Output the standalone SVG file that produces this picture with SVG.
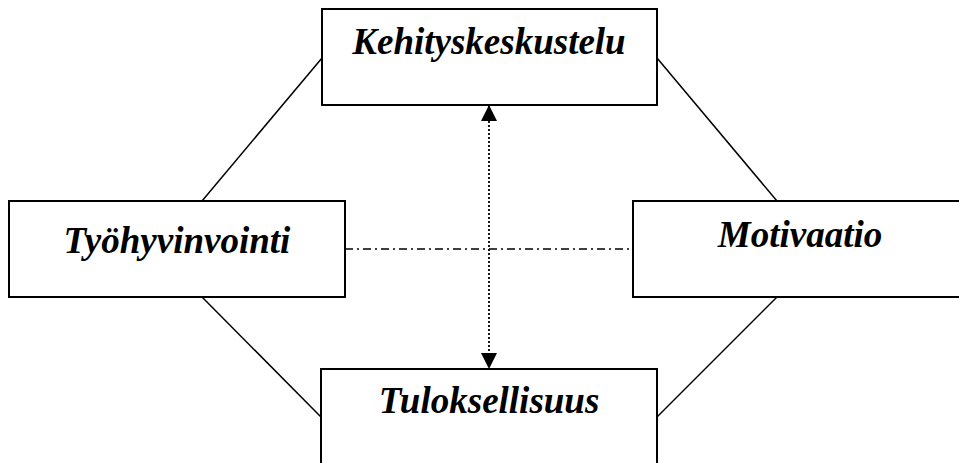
<svg xmlns="http://www.w3.org/2000/svg" width="959" height="463" viewBox="0 0 959 463">
  <style>
    .box { fill: #ffffff; stroke: #000000; stroke-width: 2; }
    .label { font-family: "Liberation Serif", "Times New Roman", serif; font-weight: bold; font-style: italic; font-size: 37px; fill: #000000; text-anchor: middle; }
    .link { stroke: #000000; stroke-width: 1.5; fill: none; }
    .dashdot { stroke: #000000; stroke-width: 1.5; fill: none; stroke-dasharray: 8 4 2 4; }
    .dotted { stroke: #000000; stroke-width: 1.8; fill: none; stroke-dasharray: 2 2; }
  </style>
  <defs>
    <marker id="arrow" markerUnits="userSpaceOnUse" markerWidth="16" markerHeight="16" viewBox="0 0 16 16" refX="16" refY="8" orient="auto-start-reverse">
      <path d="M0,0 L16,8 L0,16 Z" fill="#000000"/>
    </marker>
  </defs>
  <rect width="959" height="463" fill="#ffffff"/>

  <g id="connectors">
    <line class="link" x1="322" y1="58" x2="202" y2="201"/>
    <line class="link" x1="657" y1="58" x2="777" y2="201"/>
    <line class="link" x1="202" y1="297" x2="321" y2="417"/>
    <line class="link" x1="777" y1="297" x2="657" y2="417"/>
    <line class="dashdot" x1="345" y1="249" x2="633" y2="249"/>
    <line class="dotted" x1="489" y1="105" x2="489" y2="369" marker-start="url(#arrow)" marker-end="url(#arrow)"/>
  </g>

  <g id="kehityskeskustelu">
    <rect class="box" x="322" y="9" width="335" height="96"/>
    <text class="label" x="489" y="54">Kehityskeskustelu</text>
  </g>

  <g id="tyohyvinvointi">
    <rect class="box" x="9" y="201" width="336" height="96"/>
    <text class="label" x="177" y="253">Työhyvinvointi</text>
  </g>

  <g id="motivaatio">
    <rect class="box" x="633" y="201" width="340" height="96"/>
    <text class="label" x="800" y="247">Motivaatio</text>
  </g>

  <g id="tuloksellisuus">
    <rect class="box" x="321" y="369" width="336" height="110"/>
    <text class="label" x="489" y="413">Tuloksellisuus</text>
  </g>
</svg>
